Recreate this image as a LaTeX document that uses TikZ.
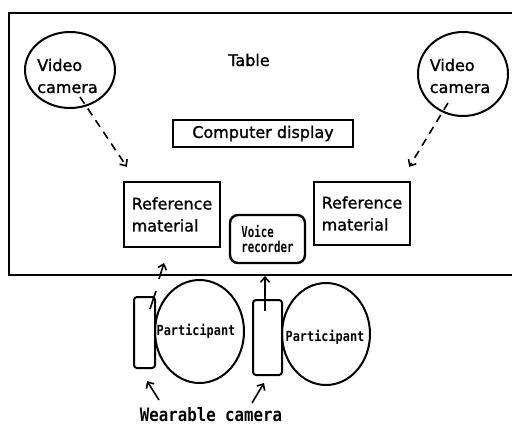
\documentclass[tikz,border=0pt]{standalone}
\usepackage{fontspec}
\setmainfont[FakeBold=1.2]{DejaVu Sans}
\newfontfamily\monof[FakeStretch=0.85]{DejaVu Sans Mono}
\newfontfamily\monofn[FakeStretch=0.72]{DejaVu Sans Mono}
\usetikzlibrary{shapes.geometric,arrows.meta,calc}
\tikzset{
  lbl/.style={font=\fontsize{16}{22}\selectfont, align=left, inner sep=0pt},
  cam/.style={ellipse, draw, line width=2pt, inner sep=0pt},
  box/.style={draw, line width=2.4pt, font=\fontsize{16}{22}\selectfont, align=left, inner sep=0pt},
  person/.style={ellipse, draw, line width=2pt, inner sep=0pt},
  ptext/.style={inner sep=0pt, font=\monof\bfseries\fontsize{14}{16}\selectfont},
  wear/.style={draw, fill=white, line width=2pt, rounded corners=3pt, inner sep=0pt},
  arr/.style={line width=1.6pt, -{Straight Barb[length=5pt,width=9pt]}},
  dasharr/.style={arr, dash pattern=on 8pt off 6pt},
  tableline/.style={line width=2.4pt}
}
\begin{document}
\begin{tikzpicture}[x=1pt,y=-1pt]
\useasboundingbox (0,0) rectangle (512,426);
\fill[white] (0,0) rectangle (512,426);
% table
\draw[tableline] (513,13) -- (9,13) -- (9,275) -- (513,275);
\node[lbl, anchor=base] (tbl) at (249,66) {Table};
% video cameras
\node[cam, minimum width=90pt, minimum height=76pt] (vcL) at (70,70) {};
\node[lbl] (vcLt) at (67.5,76) {Video\\camera};
\node[cam, minimum width=90pt, minimum height=84pt] (vcR) at (463,74) {};
\node[lbl] (vcRt) at (460,76) {Video\\camera};
% computer display
\node[box, minimum width=180pt, minimum height=27pt] (disp) at (263,133.5) {Computer display};
% reference materials
\node[box, minimum width=96pt, minimum height=65pt] (refL) at (172,214.5) {Reference\\material};
\node[box, minimum width=96pt, minimum height=63pt] (refR) at (362,213.5) {Reference\\material};
% voice recorder
\node[draw, line width=2.4pt, rounded corners=8pt, minimum width=75pt, minimum height=48pt, inner sep=0pt, align=left,
      font=\monofn\bfseries\fontsize{15}{15.5}\selectfont] (vr) at (267.5,239) {Voice\\recorder};
% participants
\node[person, minimum width=89pt, minimum height=103pt] (pL) at (199.5,331.5) {};
\node[ptext] (pLt) at (196,331) {Participant};
\node[person, minimum width=88pt, minimum height=102pt] (pR) at (326,334) {};
\node[ptext] (pRt) at (325,337) {Participant};
% wearable cameras
\node[wear, minimum width=21pt, minimum height=71pt] (wcL) at (144.5,332.5) {};
\node[wear, minimum width=29pt, minimum height=75pt] (wcR) at (267.5,337.5) {};
\node[anchor=base, inner sep=0pt, font=\monof\bfseries\fontsize{18.5}{20}\selectfont] (wlab) at (211,421) {Wearable camera};
% dashed arrows camera -> reference
\draw[dasharr] ($(vcL.center)+(10,27)$) -- ($(refL.north west)+(4,-14)$);
\draw[dasharr] ($(vcR.center)+(-15,29)$) -- ($(refR.north east)+(-2,-14)$);
% wearable camera view arrows
\draw[line width=1.6pt] ($(wcL.north east)+(-6,13)$) -- ($(wcL.north east)+(0,-5)$);
\draw[arr] ($(wcL.north east)+(3,-17)$) -- ($(wcL.north east)+(8,-33)$);
\draw[arr] ($(wcR.north)+(-2.5,12)$) -- ($(wcR.north)+(-2.5,-23)$);
% label arrows
\draw[arr] ($(wcL.south)+(14.5,31)$) -- ($(wcL.south)+(2.5,12)$);
\draw[arr] ($(wcR.south)+(-15.5,27)$) -- ($(wcR.south)+(-3.5,7)$);
\end{tikzpicture}
\end{document}
